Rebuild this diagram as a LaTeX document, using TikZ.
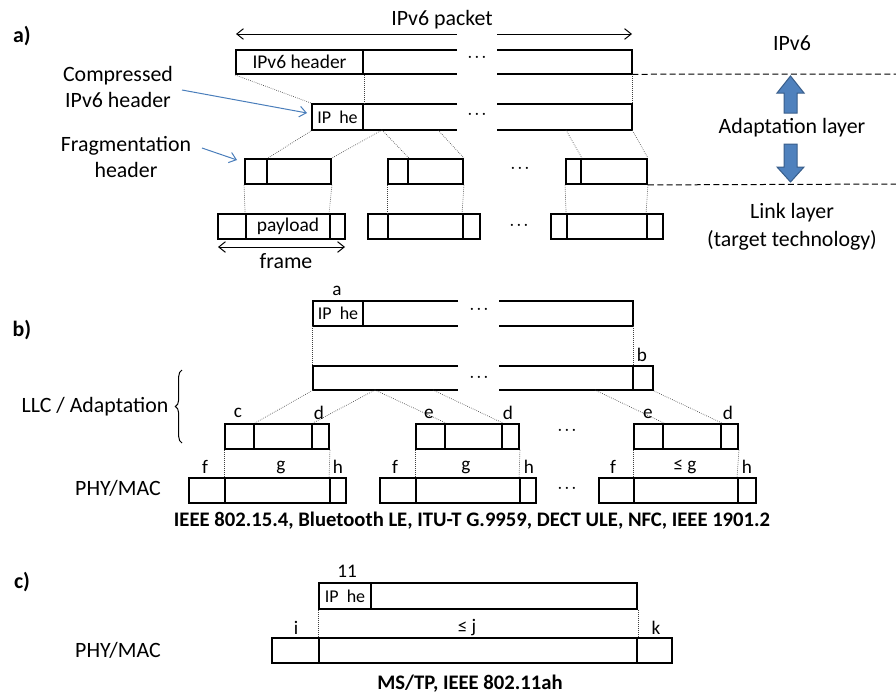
\documentclass[tikz,border=0pt]{standalone}
\usepackage{fontspec}
\setmainfont{Carlito}
\usetikzlibrary{arrows.meta,fit,decorations.pathreplacing}
\definecolor{arrfill}{HTML}{4F81BD}
\definecolor{arrdraw}{HTML}{385D8A}
\definecolor{callout}{HTML}{4A7EBB}
\newcommand\cellbox[6]{\node[cellst, fit={(#2,#3) (#4,#5)}, label={[boxtxt]center:#6}] (#1) {};}
\newcommand\gapbox[7]{\node[inner sep=0pt, fit={(#2,#3) (#4,#5)}] (#1) {};
  \draw[boxline] (#6,#3) -- (#2,#3) -- (#2,#5) -- (#6,#5) (#7,#3) -- (#4,#3) -- (#4,#5) -- (#7,#5);}
\newcommand\iphe{{\fontsize{13.5}{15}\selectfont IP\ \ he}}
\tikzset{
 boxline/.style={line width=1.4pt, line join=miter},
 cellst/.style={draw, boxline, inner sep=0pt},
 boxtxt/.style={font=\fontsize{14.6}{16}\selectfont, inner sep=0pt},
 lbl/.style={font=\fontsize{16.4}{20}\selectfont, align=center, inner sep=0pt},
 letter/.style={font=\fontsize{14.4}{16}\selectfont, inner sep=0pt},
 boldtxt/.style={font=\bfseries\fontsize{15.5}{18}\selectfont, inner sep=0pt},
 sect/.style={font=\bfseries\fontsize{16.4}{18}\selectfont, inner sep=0pt},
 conn/.style={densely dotted, line width=0.5pt, black!75},
 dashln/.style={dash pattern=on 4.5pt off 2.5pt, line width=0.75pt},
 dimarr/.style={line width=0.75pt, {Straight Barb[length=5pt,width=8pt]}-{Straight Barb[length=5pt,width=8pt]}},
 callarr/.style={line width=0.75pt, draw=callout, -{Straight Barb[length=5pt,width=8pt]}},
 blockarr/.style={fill=arrfill, draw=arrdraw, line width=0.75pt},
 dots/.style={font=\fontsize{11}{12}\selectfont, inner sep=0pt},
}
\begin{document}
\begin{tikzpicture}[x=0.75pt,y=-0.75pt]
\useasboundingbox (0,0) rectangle (896,696);

% ---------------- a)
\node[sect] (labA) at (22,36) {a)};
\node[lbl] (pkt) at (442,20) {IPv6 packet};
\coordinate (pktL) at (236,34); \coordinate (pktGL) at (457,34);
\coordinate (pktGR) at (497,34); \coordinate (pktR) at (632,34);
\draw[line width=0.75pt, {Straight Barb[length=5pt,width=8pt]}-] (pktL) -- (pktGL);
\draw[line width=0.75pt, -{Straight Barb[length=5pt,width=8pt]}] (pktGR) -- (pktR);

\gapbox{A1}{236}{50}{632}{74}{457}{497}
\cellbox{A1h}{236}{50}{363}{74}{IPv6 header}
\node[dots] (A1d) at (477,59) {· · ·};

\gapbox{A2}{312}{104}{632}{130}{457}{497}
\cellbox{A2h}{312}{104}{363}{130}{\iphe}
\node[dots] (A2d) at (477,116) {· · ·};

\draw[conn] (A1h.south west) -- (A2h.north west);
\draw[conn] (A1h.south east) -- (A2h.north east);
\draw[conn] (A1.south east) -- (A2.north east);
\coordinate (dashA) at (896,74);
\draw[dashln] (A1.south east) -- (dashA);

\node[lbl] (cmp) at (118,87) {Compressed\\IPv6 header};
\coordinate (cmpS) at (182,90); \coordinate (cmpE) at (307,113);
\draw[callarr] (cmpS) -- (cmpE);
\node[lbl] (frg) at (126,157) {Fragmentation\\header};
\coordinate (frgS) at (202,148); \coordinate (frgE) at (237,160);
\draw[callarr] (frgS) -- (frgE);

\cellbox{F1a}{245}{159}{267}{184}{}
\cellbox{F1b}{267}{159}{331}{184}{}
\cellbox{F2a}{388}{159}{408}{184}{}
\cellbox{F2b}{408}{159}{463}{184}{}
\cellbox{F3a}{566}{159}{581}{184}{}
\cellbox{F3b}{581}{159}{647}{184}{}
\node[dots] (Fd) at (520,170) {· · ·};

\coordinate (s1) at (382,130); \coordinate (s2) at (438,130); \coordinate (s3) at (566,130);
\draw[conn] (A2h.south west) -- (F1a.north east);
\draw[conn] (s1) -- (F1b.north east);
\draw[conn] (s1) -- (F2a.north east);
\draw[conn] (s2) -- (F2b.north east);
\draw[conn] (s3) -- (F3a.north east);
\draw[conn] (A2.south east) -- (F3b.north east);
\coordinate (dashB) at (896,184);
\draw[dashln] (F3b.south east) -- (dashB);

\cellbox{R1a}{218}{214}{246}{239}{}
\cellbox{R1b}{246}{214}{330}{239}{payload}
\cellbox{R1c}{330}{214}{345}{239}{}
\cellbox{R2a}{368}{214}{388}{239}{}
\cellbox{R2b}{388}{214}{463}{239}{}
\cellbox{R2c}{463}{214}{480}{239}{}
\cellbox{R3a}{551}{214}{567}{239}{}
\cellbox{R3b}{567}{214}{647}{239}{}
\cellbox{R3c}{647}{214}{663}{239}{}
\node[dots] (Rd) at (519,227) {· · ·};

\draw[conn] (F1a.south west) -- (R1b.north west);
\draw[conn] (F1b.south east) -- (R1c.north west);
\draw[conn] (F2a.south west) -- (R2b.north west);
\draw[conn] (F2b.south east) -- (R2c.north west);
\draw[conn] (F3a.south west) -- (R3b.north west);
\draw[conn] (F3b.south east) -- (R3c.north west);

\coordinate (frL) at (218,247); \coordinate (frR) at (345,247);
\draw[dimarr] (frL) -- (frR);
\node[lbl] (frm) at (286,261) {frame};

\node[lbl] (ipv6) at (792,43) {IPv6};
\node[lbl] (adl) at (792,128) {Adaptation layer};
\node[lbl] (lnk) at (792,213) {Link layer};
\node[lbl] (tgt) at (792,240) {(target technology)};
\draw[blockarr] (784,113) -- (784,93) -- (777,93) -- (790.5,76) -- (804,93) -- (797,93) -- (797,113) -- cycle;
\draw[blockarr] (784,144) -- (784,167) -- (777,167) -- (790.5,182) -- (804,167) -- (797,167) -- (797,144) -- cycle;

% ---------------- b)
\node[sect] (labB) at (22,330) {b)};
\node[letter] (la) at (337,291) {a};
\gapbox{B1}{313}{301}{633}{326}{458}{499}
\cellbox{B1h}{313}{301}{363}{326}{\iphe}
\node[dots] (B1d) at (479,311) {· · ·};
\gapbox{B2}{313}{366}{633}{390}{458}{499}
\cellbox{B2t}{633}{366}{653}{390}{}
\node[dots] (B2d) at (479,379) {· · ·};
\node[letter] (lb) at (642,355) {b};
\draw[conn] (B1.south west) -- (B2.north west);
\draw[conn] (B1.south east) -- (B2.north east);

\cellbox{C1a}{225}{424}{254}{449}{}
\cellbox{C1b}{254}{424}{312}{449}{}
\cellbox{C1c}{312}{424}{329}{449}{}
\cellbox{C2a}{416}{424}{445}{449}{}
\cellbox{C2b}{445}{424}{502}{449}{}
\cellbox{C2c}{502}{424}{519}{449}{}
\cellbox{C3a}{634}{424}{663}{449}{}
\cellbox{C3b}{663}{424}{721}{449}{}
\cellbox{C3c}{721}{424}{738}{449}{}
\node[dots] (Cd) at (567,432) {· · ·};

\coordinate (t1) at (375,390); \coordinate (t2) at (433,390); \coordinate (t3) at (595,390);
\draw[conn] (B2.south west) -- (C1a.north east);
\draw[conn] (t1) -- (C1b.north east);
\draw[conn] (t1) -- (C2a.north east);
\draw[conn] (t2) -- (C2b.north east);
\draw[conn] (t3) -- (C3a.north east);
\draw[conn] (B2t.south east) -- (C3b.north east);

\node[letter] (lc) at (238,413) {c};
\node[letter] (ld1) at (319,413) {d};
\node[letter] (le1) at (429,414) {e};
\node[letter] (ld2) at (508,413) {d};
\node[letter] (le2) at (648,414) {e};
\node[letter] (ld3) at (728,413) {d};

\coordinate (brB) at (182,443); \coordinate (brT) at (182,370);
\draw[line width=0.75pt, decorate, decoration={brace, amplitude=5pt}] (brB) -- (brT);
\node[lbl] (llc) at (95,407) {LLC / Adaptation};
\node[lbl] (phyB) at (118,488) {PHY/MAC};

\cellbox{P1a}{189}{478}{225}{503}{}
\cellbox{P1b}{225}{478}{330}{503}{}
\cellbox{P1c}{330}{478}{346}{503}{}
\cellbox{P2a}{380}{478}{416}{503}{}
\cellbox{P2b}{416}{478}{520}{503}{}
\cellbox{P2c}{520}{478}{536}{503}{}
\cellbox{P3a}{599}{478}{634}{503}{}
\cellbox{P3b}{634}{478}{738}{503}{}
\cellbox{P3c}{738}{478}{756}{503}{}
\node[dots] (Pd) at (567,490) {· · ·};

\draw[conn] (C1a.south west) -- (P1b.north west);
\draw[conn] (C1c.south east) -- (P1c.north west);
\draw[conn] (C2a.south west) -- (P2b.north west);
\draw[conn] (C2c.south east) -- (P2c.north west);
\draw[conn] (C3a.south west) -- (P3b.north west);
\draw[conn] (C3c.south east) -- (P3c.north west);

\node[letter] (lf1) at (205,467) {f};
\node[letter] (lg1) at (281,467) {g};
\node[letter] (lh1) at (338,467) {h};
\node[letter] (lf2) at (395,467) {f};
\node[letter] (lg2) at (466,467) {g};
\node[letter] (lh2) at (529,467) {h};
\node[letter] (lf3) at (613,467) {f};
\node[letter] (lg3) at (685,467) {≤ g};
\node[letter] (lh3) at (747,467) {h};

\node[boldtxt] (techB) at (472,521) {IEEE 802.15.4, Bluetooth LE, ITU-T G.9959, DECT ULE, NFC, IEEE 1901.2};

% ---------------- c)
\node[sect] (labC) at (22,582) {c)};
\node[letter] (l11) at (347,571) {11};
\cellbox{D1}{319}{583}{637}{609}{}
\cellbox{D1h}{319}{583}{371}{609}{\iphe}
\cellbox{Q1}{272}{638}{319}{663}{}
\cellbox{Q2}{319}{638}{637}{663}{}
\cellbox{Q3}{637}{638}{672}{663}{}
\draw[conn] (D1.south west) -- (Q2.north west);
\draw[conn] (D1.south east) -- (Q2.north east);
\node[letter] (li) at (296,628) {i};
\node[letter] (lj) at (467,628) {≤ j};
\node[letter] (lk) at (656,628) {k};
\node[lbl] (phyC) at (118,650) {PHY/MAC};
\node[boldtxt] (techC) at (470,684) {MS/TP, IEEE 802.11ah};
\end{tikzpicture}
\end{document}
